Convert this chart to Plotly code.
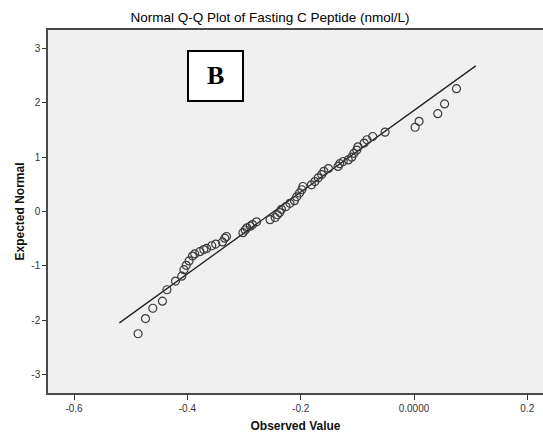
import plotly.graph_objects as go

title_text = "Normal Q-Q Plot of Fasting C Peptide (nmol/L)"
x_title = "Observed Value"
y_title = "Expected Normal"
panel_label = "B"

observed = [-0.487, -0.474, -0.461, -0.444, -0.436, -0.421, -0.410, -0.406, -0.402, -0.397,
            -0.391, -0.387, -0.378, -0.371, -0.366, -0.357, -0.350, -0.338, -0.334, -0.331,
            -0.302, -0.298, -0.295, -0.289, -0.285, -0.278, -0.254, -0.245, -0.241, -0.237,
            -0.234, -0.226, -0.219, -0.211, -0.207, -0.202, -0.198, -0.196, -0.181, -0.175,
            -0.169, -0.163, -0.159, -0.151, -0.134, -0.131, -0.125, -0.116, -0.110, -0.106,
            -0.101, -0.099, -0.088, -0.083, -0.073, -0.051, 0.002, 0.009, 0.042, 0.054, 0.075]
expected = [-2.25, -1.97, -1.78, -1.65, -1.44, -1.28, -1.19, -1.07, -0.99, -0.91,
            -0.82, -0.78, -0.74, -0.70, -0.68, -0.63, -0.60, -0.56, -0.49, -0.46,
            -0.39, -0.34, -0.30, -0.27, -0.24, -0.19, -0.15, -0.11, -0.06, -0.02,
            0.04, 0.09, 0.15, 0.20, 0.27, 0.34, 0.40, 0.46, 0.49, 0.55,
            0.62, 0.68, 0.74, 0.79, 0.83, 0.88, 0.92, 0.95, 1.00, 1.07,
            1.13, 1.19, 1.26, 1.32, 1.38, 1.46, 1.55, 1.66, 1.80, 1.98, 2.26]

ref_line_x = [-0.520, 0.109]
ref_line_y = [-2.05, 2.68]

x_tickvals = [-0.6, -0.4, -0.2, 0.0, 0.2]
x_ticktext = ["-0.6", "-0.4", "-0.2", "0.0000", "0.2"]
y_tickvals = [-3, -2, -1, 0, 1, 2, 3]
y_ticktext = ["-3", "-2", "-1", "0", "1", "2", "3"]

fig = go.Figure()
fig.add_trace(go.Scatter(x=ref_line_x, y=ref_line_y, mode="lines",
                         line=dict(color="#1e1e1e", width=1.3), hoverinfo="skip"))
fig.add_trace(go.Scatter(x=observed, y=expected, mode="markers",
                         marker=dict(symbol="circle-open", size=8, color="#3a3a3a",
                                     line=dict(width=1.2, color="#3a3a3a"))))

fig.add_shape(type="rect", xref="paper", yref="paper",
              x0=(188 - 48) / 495, x1=(243 - 48) / 495,
              y0=(393 - 101) / 363, y1=(393 - 51) / 363,
              line=dict(color="black", width=2), fillcolor="white", layer="above")
fig.add_annotation(text=panel_label, xref="paper", yref="paper",
                   x=(215.5 - 48) / 495, y=(393 - 76) / 363, showarrow=False,
                   font=dict(family="Liberation Serif", size=26, color="black", weight="bold"),
                   xanchor="center", yanchor="middle")

fig.update_layout(
    width=543, height=436,
    margin=dict(l=48, r=0, t=30, b=43),
    paper_bgcolor="white", plot_bgcolor="#f0f0f0",
    showlegend=False,
    title=dict(text=title_text, x=270 / 543, xanchor="center", y=1 - 17 / 436, yanchor="middle",
               font=dict(family="Liberation Sans", size=13.5, color="black")),
    font=dict(family="Liberation Sans", size=10, color="#333333"),
)
fig.update_xaxes(range=[-0.646, 0.2277], showgrid=False, zeroline=False,
                 showline=True, linecolor="#4a4a4a", linewidth=1.5, mirror=True,
                 ticks="outside", ticklen=5, tickcolor="#333333", tickwidth=1,
                 tickvals=x_tickvals, ticktext=x_ticktext,
                 tickfont=dict(size=10, color="#333333"),
                 title=dict(text="<b>" + x_title + "</b>", standoff=9,
                            font=dict(family="Liberation Sans", size=12, color="#111111")))
fig.update_yaxes(range=[-3.34, 3.34], showgrid=False, zeroline=False,
                 showline=True, linecolor="#4a4a4a", linewidth=1.5,
                 ticks="outside", ticklen=4, tickcolor="#333333", tickwidth=1,
                 tickvals=y_tickvals, ticktext=y_ticktext,
                 tickfont=dict(size=10, color="#333333"),
                 title=dict(text="<b>" + y_title + "</b>", standoff=4,
                            font=dict(family="Liberation Sans", size=12, color="#111111")))

fig.write_html("out.html")
